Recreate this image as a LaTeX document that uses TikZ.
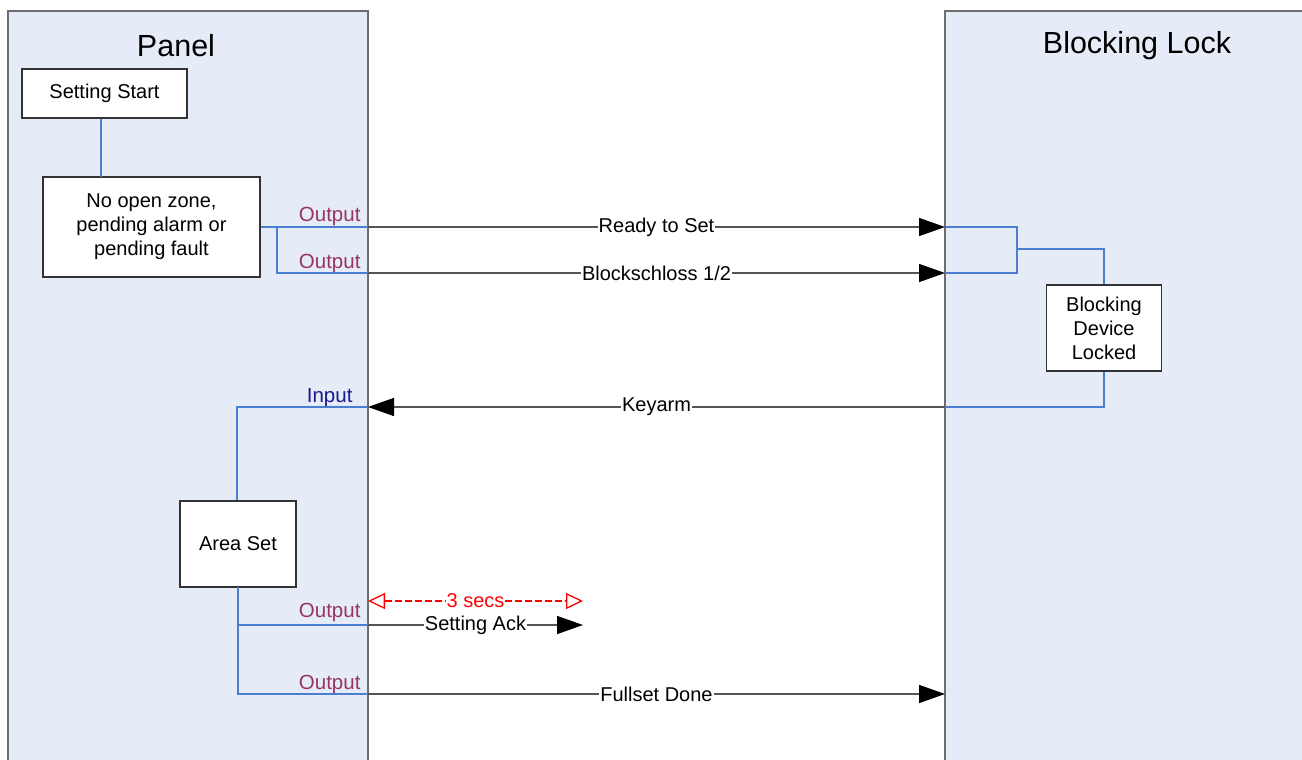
\documentclass[tikz,border=0pt]{standalone}
\usepackage{fontspec}
\setmainfont{Liberation Sans}
\usetikzlibrary{arrows.meta}
\definecolor{lanefill}{HTML}{E5ECF7}
\definecolor{laneedge}{HTML}{6E6E6E}
\definecolor{wire}{HTML}{4A7FD0}
\definecolor{msgline}{HTML}{555555}
\definecolor{outcol}{HTML}{993366}
\definecolor{incol}{HTML}{1A1A8C}
\tikzset{
  lane/.style={draw=laneedge, fill=lanefill, line width=1.2pt},
  lanetitle/.style={font=\fontsize{30.5}{32}\selectfont, anchor=center},
  stepbox/.style={draw=black!80, fill=white, line width=1.1pt, align=center, font=\fontsize{20}{24}\selectfont, inner sep=0pt},
  wireline/.style={draw=wire, line width=1.3pt},
  msg/.style={draw=msgline, line width=1.5pt, -{Triangle[length=26pt,width=18pt,black]}},
  msglabel/.style={fill=white, inner sep=1pt, font=\fontsize{20}{22}\selectfont},
  outlabel/.style={text=outcol, font=\fontsize{20.5}{22}\selectfont, anchor=base east},
  inlabel/.style={text=incol, font=\fontsize{20.5}{22}\selectfont, anchor=base east},
  timer/.style={draw=red, dash pattern=on 7pt off 3pt, line width=1.3pt, {Triangle[open,length=17pt,width=16pt,fill=white]}-{Triangle[open,length=17pt,width=16pt,fill=white]}},
}
\begin{document}
\begin{tikzpicture}[x=1pt,y=-1pt]
\useasboundingbox (0,0) rectangle (1302,760);
% lanes
\path[lane] (8,770) -- (8,11) -- (368,11) -- (368,770);
\path[lane] (945,770) -- (945,11) -- (1312,11) -- (1312,770);
\node[lanetitle] (paneltitle) at (176,46) {Panel};
\node[lanetitle] (locktitle) at (1137,46) {Blocking Lock};
% boxes
\node[stepbox, minimum width=165pt, minimum height=49pt] (start) at (104.5,93.5) {Setting Start};
\node[stepbox, minimum width=217pt, minimum height=100pt] (noopen) at (151.5,227) {No open zone,\\pending alarm or\\pending fault};
\node[stepbox, minimum width=115pt, minimum height=86pt] (bdl) at (1104,328) {Blocking\\Device\\Locked};
\node[stepbox, minimum width=116pt, minimum height=86pt] (areaset) at (238,544) {Area Set};
% lane edge coordinates
\coordinate (pR) at (368,227);
\coordinate (pB) at (368,273);
\coordinate (lR) at (945,227);
\coordinate (lB) at (945,273);
\coordinate (lK) at (945,407);
\coordinate (pK) at (368,407);
\coordinate (pS) at (368,625);
\coordinate (sEnd) at (583,625);
\coordinate (tA) at (368,601);
\coordinate (tB) at (583,601);
\coordinate (pF) at (368,694);
\coordinate (lF) at (945,694);
% blue wiring panel
\draw[wireline] (start.south -| 101,0) -- (101,177);
\draw[wireline] (noopen.east) -- (pR);
\draw[wireline] (277,227) |- (pB);
\draw[wireline] (pK) -| (areaset.north -| 237,0);
\draw[wireline] (238,587) |- (pF);
\draw[wireline] (238,625) -- (pS);
% blue wiring lock
\draw[wireline] (lR) -| (1017,273) -- (lB);
\draw[wireline] (1017,249) -| (bdl.north);
\draw[wireline] (bdl.south) |- (lK);
% messages
\draw[msg] (pR) -- node[msglabel] {Ready to Set} (lR);
\draw[msg] (pB) -- node[msglabel] {Blockschloss 1/2} (lB);
\draw[msg] (lK) -- node[msglabel] {Keyarm} (pK);
\draw[msg] (pS) -- node[msglabel] {Setting Ack} (sEnd);
\draw[msg] (pF) -- node[msglabel] {Fullset Done} (lF);
\draw[timer] (tA) -- node[msglabel, text=red] {3 secs} (tB);
% labels
\node[outlabel] (o1) at (364,221) {Output};
\node[outlabel] (o2) at (364,268) {Output};
\node[inlabel] (i1) at (356,402) {Input};
\node[outlabel] (o3) at (364,617) {Output};
\node[outlabel] (o4) at (364,689) {Output};
\end{tikzpicture}
\end{document}
